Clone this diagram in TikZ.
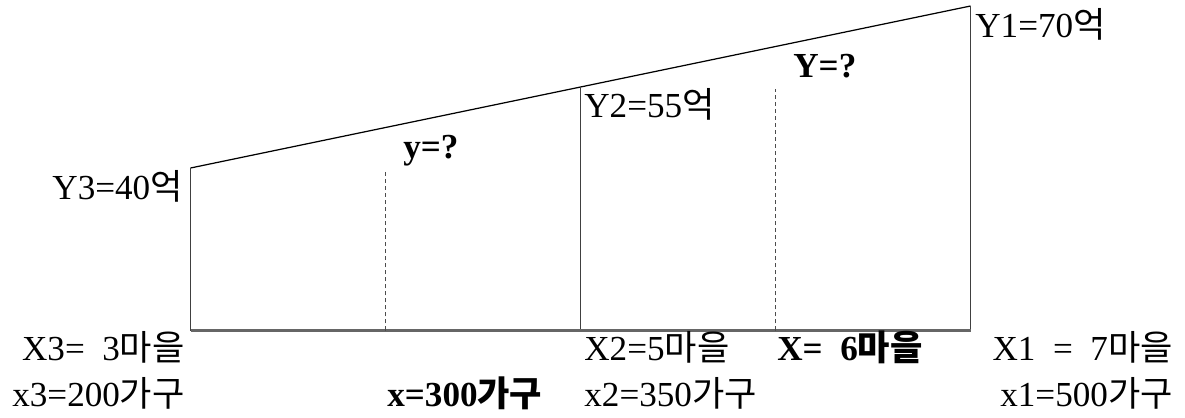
\documentclass[tikz,border=0pt]{standalone}
\usepackage{fontspec}
\setmainfont{Liberation Serif}
\newfontfamily\kr{Noto Sans CJK KR}
\usepackage{tikz}
\usetikzlibrary{calc}
\newcommand{\ko}[1]{{\kr #1}}
\tikzset{
  lbl/.style={inner sep=0pt,font=\fontsize{20}{24}\selectfont},
  boldlbl/.style={lbl,font=\fontsize{20}{24}\selectfont\bfseries},
  frameline/.style={draw=black!75,line width=0.7pt},
  guide/.style={draw=black!70,line width=0.6pt,dash pattern=on 2.3pt off 1.7pt}
}

\begin{document}
\begin{tikzpicture}[x=0.02cm,y=-0.02cm,line cap=butt,line join=miter]
  % white background, fixes the margins
  \fill[white] (0,0) rectangle (1185,417);

  % corners of the trapezoid
  \coordinate (bl) at (190.5,330.5);
  \coordinate (tl) at (190.5,168);
  \coordinate (tr) at (970.5,6);
  \coordinate (br) at (970.5,330.5);
  \coordinate (mb) at (580.5,330.5);
  \coordinate (mt) at (580.5,87);

  % dashed guides
  \coordinate (lgb) at (385.5,330.5);
  \coordinate (lgt) at (385.5,170);
  \coordinate (rgb) at (775.5,330.5);
  \coordinate (rgt) at (775.5,89);

  % frame
  \draw[black,line width=0.7pt] (tl) -- (tr);
  \draw[frameline] (bl) -- (tl);
  \draw[frameline] (tr) -- (br);
  \draw[frameline] (mb) -- (mt);
  \draw[draw=black!60,line width=1.2pt] (bl) -- (br);
  \draw[guide] (lgb) -- (lgt);
  \draw[guide] (rgb) -- (rgt);

  % heights
  \node[lbl,anchor=base east] (y3) at (183,199) {Y3=40\ko{억}};
  \node[lbl,anchor=base west] (y2) at (584,117) {Y2=55\ko{억}};
  \node[lbl,anchor=base west] (y1) at (975,37) {Y1=70\ko{억}};
  \node[boldlbl,anchor=base west] (yq) at (403,158) {y=?};
  \node[boldlbl,anchor=base west] (Yq) at (793,77) {Y=?};

  % villages
  \node[lbl,anchor=base east] (x3v) at (185,360) {X3=\ \ 3\ko{마을}};
  \node[lbl,anchor=base west] (x2v) at (584,360) {X2=5\ko{마을}};
  \node[boldlbl,anchor=base west] (xv) at (777,360) {X=\ \ 6{\kr\bfseries 마을}};
  \node[lbl,anchor=base east] (x1v) at (1173,360) {X1\ \ =\ \ 7\ko{마을}};

  % households
  \node[lbl,anchor=base east] (x3h) at (185,406) {x3=200\ko{가구}};
  \node[boldlbl,anchor=base west] (xh) at (387,406) {x=300{\kr\bfseries 가구}};
  \node[lbl,anchor=base west] (x2h) at (584,406) {x2=350\ko{가구}};
  \node[lbl,anchor=base east] (x1h) at (1173,406) {x1=500\ko{가구}};
\end{tikzpicture}
\end{document}
